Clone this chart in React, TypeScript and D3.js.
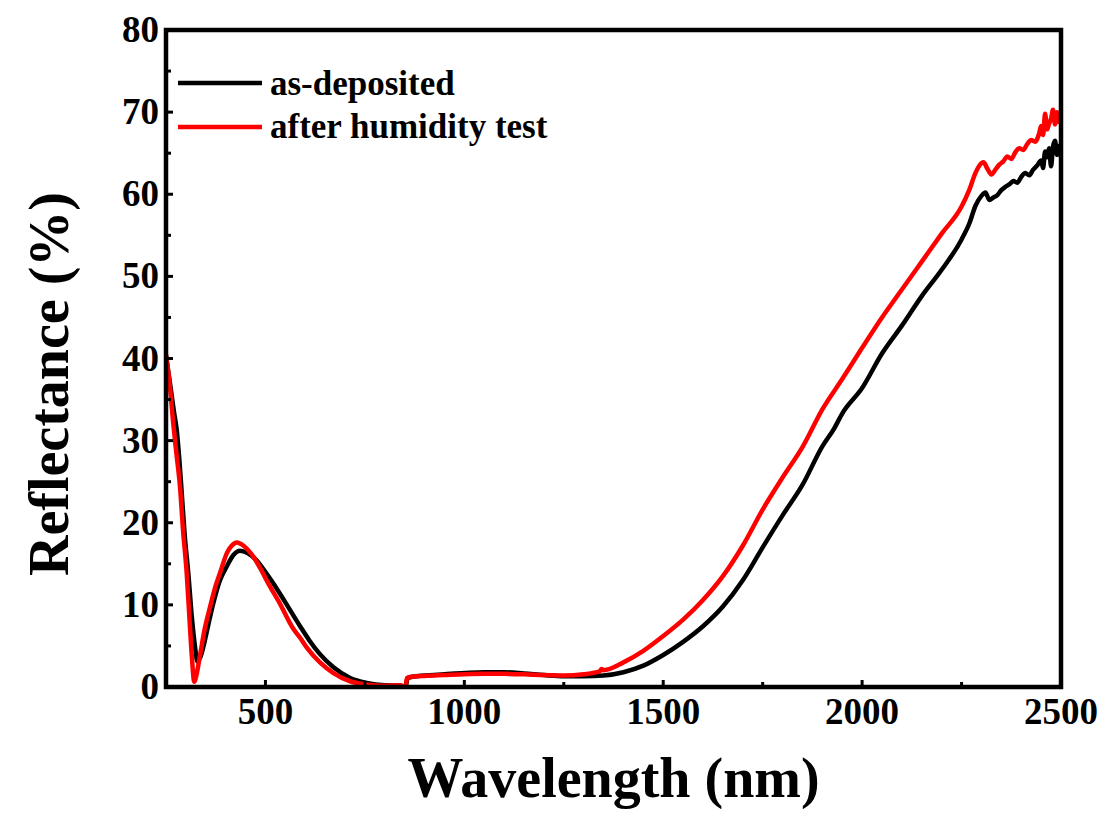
import React from "react";
import * as d3 from "d3";

const wlBlack = [250,260,270,277,283,289,297,306,315,323,329,336,344,356,369,385,403,420,436,455,478,500,520,550,587,610,637,671,713,754,800,840,850,853,857,870,900,950,1000,1050,1100,1150,1200,1250,1300,1350,1400,1450,1500,1550,1600,1650,1700,1750,1800,1850,1900,1930,1950,2000,2050,2100,2150,2200,2250,2270,2285,2300,2310,2320,2330,2340,2350,2360,2370,2380,2390,2400,2410,2420,2430,2440,2450,2455,2460,2465,2470,2475,2480,2485,2490,2495,2500];
const rBlack = [40.3,37,33.5,31.3,28,24,18.5,13.9,8.5,4.9,3.1,3.6,4.9,7.5,10.2,12.9,14.7,16.1,16.6,16.3,15.4,14.0,12.6,10.3,7.4,5.7,4.0,2.4,1.1,0.5,0.2,0.15,0.05,0.1,1.1,1.25,1.4,1.55,1.7,1.8,1.8,1.65,1.45,1.3,1.3,1.4,1.8,2.6,3.9,5.5,7.4,9.8,13,17,20.9,24.6,29.3,31.5,33.3,36.4,40.6,44,47.6,50.8,54.5,56.5,58.6,59.8,60.2,59.3,59.6,59.9,60.5,60.9,61.2,61.6,61.4,62.1,62.6,62.3,63.0,63.5,64.1,63.2,65.2,64.5,65.6,63.4,65.8,66.5,64.8,65.9,64.5];

const wlRed = [250,260,268,276,285,293,302,310,315,321,328,335,347,361,374,386,403,415,428,445,469,490,505,537,570,587,604,637,671,713,754,800,840,848,852,856,870,900,950,1000,1050,1100,1150,1200,1250,1300,1340,1345,1350,1400,1450,1500,1550,1600,1650,1700,1750,1800,1850,1900,1950,2000,2050,2100,2150,2200,2250,2270,2285,2295,2305,2315,2325,2335,2345,2355,2365,2375,2385,2395,2405,2415,2425,2435,2445,2450,2455,2460,2465,2470,2475,2480,2485,2490,2495,2500];
const rRed = [40.5,36.5,32.2,28.5,24.5,19,13.9,7.5,3.7,0.65,1.8,3.7,7,9.8,12.2,13.9,16.3,17.2,17.6,17.2,15.9,14.2,12.8,10.1,7.1,6.0,4.8,3.0,1.7,0.7,0.3,0.15,0.2,0.0,0.1,1.1,1.25,1.35,1.45,1.55,1.6,1.6,1.55,1.45,1.4,1.55,1.9,2.2,2.05,3.0,4.4,6.2,8.2,10.6,13.5,17.2,21.6,25.5,29.2,33.8,37.5,41.3,45,48.4,51.8,55.2,58.5,60.6,62.6,63.5,63.9,63.1,62.4,63.0,63.6,64.0,64.6,64.3,65.1,65.6,65.4,66.1,66.6,66.4,67.4,68.3,67.2,69.8,67.9,68.6,69.2,70.3,68.5,70.0,68.8,69.5];

const xMajor = [500, 1000, 1500, 2000, 2500];
const xMinor = [750, 1250, 1750, 2250];
const yMajor = [0, 10, 20, 30, 40, 50, 60, 70, 80];
const yMinor = [5, 15, 25, 35, 45, 55, 65, 75];

const seriesNames = ["as-deposited", "after humidity test"];
const seriesColors = ["#000000", "#ff0000"];

export default function App() {
  const left = 166, right = 1061, top = 30, bottom = 687;
  const x = d3.scaleLinear().domain([250, 2500]).range([left, right]);
  const y = d3.scaleLinear().domain([0, 80]).range([bottom, top]);
  const font = "'Liberation Serif', 'Times New Roman', serif";

  const line = d3
    .line<[number, number]>()
    .x((d) => x(d[0]))
    .y((d) => y(d[1]))
    .curve(d3.curveMonotoneX);

  const blackPts = wlBlack.map((w, i) => [w, rBlack[i]] as [number, number]);
  const redPts = wlRed.map((w, i) => [w, rRed[i]] as [number, number]);

  return (
    <div style={{ position: "absolute", left: 0, top: 0 }}>
      <svg width={1107} height={816} style={{ display: "block", background: "#fff" }}>
        <defs>
          <clipPath id="plot">
            <rect x={left} y={top} width={right - left} height={bottom - top} />
          </clipPath>
        </defs>
        <g clipPath="url(#plot)">
          <path d={line(blackPts) || ""} fill="none" stroke={seriesColors[0]} strokeWidth={4.5} strokeLinejoin="round" />
          <path d={line(redPts) || ""} fill="none" stroke={seriesColors[1]} strokeWidth={4.5} strokeLinejoin="round" />
        </g>
        {xMajor.map((v) => (
          <line key={"xM" + v} x1={x(v)} x2={x(v)} y1={bottom} y2={bottom - 7} stroke="#000" strokeWidth={3} />
        ))}
        {xMinor.map((v) => (
          <line key={"xm" + v} x1={x(v)} x2={x(v)} y1={bottom} y2={bottom - 5} stroke="#000" strokeWidth={3} />
        ))}
        {yMajor.map((v) => (
          <line key={"yM" + v} x1={left} x2={left + 7} y1={y(v)} y2={y(v)} stroke="#000" strokeWidth={3} />
        ))}
        {yMinor.map((v) => (
          <line key={"ym" + v} x1={left} x2={left + 5} y1={y(v)} y2={y(v)} stroke="#000" strokeWidth={3} />
        ))}
        <rect x={left} y={top} width={right - left} height={bottom - top} fill="none" stroke="#000" strokeWidth={4.5} />
        {xMajor.map((v) => (
          <text key={"xl" + v} x={x(v)} y={724} textAnchor="middle" fontFamily={font} fontWeight="bold" fontSize={37}>
            {v}
          </text>
        ))}
        {yMajor.map((v) => (
          <text key={"yl" + v} x={159} y={y(v) + 12} textAnchor="end" fontFamily={font} fontWeight="bold" fontSize={37}>
            {v}
          </text>
        ))}
        <text x={(left + right) / 2} y={797} textAnchor="middle" fontFamily={font} fontWeight="bold" fontSize={56}>
          Wavelength (nm)
        </text>
        <text transform="translate(68,384) rotate(-90)" textAnchor="middle" fontFamily={font} fontWeight="bold" fontSize={56}>
          Reflectance (%)
        </text>
        {seriesNames.map((n, i) => (
          <g key={n}>
            <line x1={178} x2={262} y1={83 + i * 44} y2={83 + i * 44} stroke={seriesColors[i]} strokeWidth={4.5} />
            <text x={270} y={95 + i * 43} fontFamily={font} fontWeight="bold" fontSize={35}>
              {n}
            </text>
          </g>
        ))}
      </svg>
    </div>
  );
}
